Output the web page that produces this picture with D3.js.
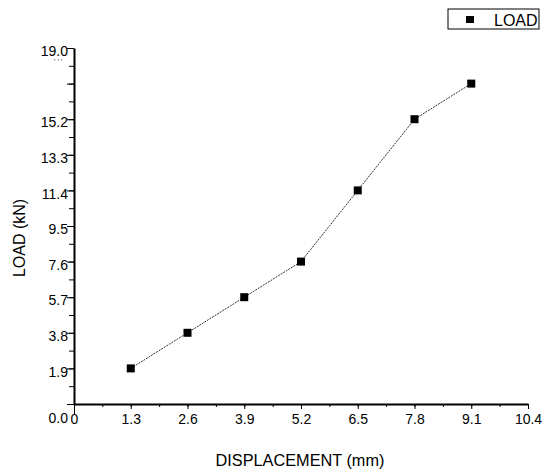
<!DOCTYPE html>
<html>
<head>
<meta charset="utf-8">
<script src="https://cdn.jsdelivr.net/npm/d3@7"></script>
<style>
body { margin: 0; background: #fff; }
text { font-family: "Liberation Sans", Arial, sans-serif; fill: #000; }
</style>
</head>
<body>
<script>
// data
var displacement = [1.3, 2.6, 3.9, 5.2, 6.5, 7.8, 9.1];
var load = [1.9, 3.8, 5.7, 7.6, 11.4, 15.2, 17.1];
var xTicks = [0, 1.3, 2.6, 3.9, 5.2, 6.5, 7.8, 9.1, 10.4];
var yTicks = [0, 1.9, 3.8, 5.7, 7.6, 9.5, 11.4, 13.3, 15.2, 17.1, 19.0];
var seriesName = "LOAD";

var W = 545, H = 472;
var margin = {top: 48, right: 17, bottom: 68, left: 74};

var svg = d3.select("body").append("svg")
    .attr("width", W)
    .attr("height", H);

var x = d3.scaleLinear().domain([0, 10.4]).range([margin.left, W - margin.right]);
var y = d3.scaleLinear().domain([0, 19.0]).range([H - margin.bottom, margin.top]);

// minor ticks half way between the majors
var xMinor = d3.range(0, 10.4, 0.65);
var yMinor = d3.range(0, 19.0, 0.95);

//minor tick marks
svg.append("g")
    .attr("transform", "translate(0," + y(0) + ")")
    .call(d3.axisBottom(x).tickValues(xMinor).tickSize(3).tickFormat(""))
    .call(function(g){ g.select(".domain").remove(); });
svg.append("g")
    .attr("transform", "translate(" + x(0) + ",0)")
    .call(d3.axisLeft(y).tickValues(yMinor).tickSize(5).tickFormat(""))
    .call(function(g){ g.select(".domain").remove(); });

// x axis
var gx = svg.append("g")
    .attr("transform", "translate(0," + y(0) + ")")
    .call(d3.axisBottom(x).tickValues(xTicks).tickSize(5).tickSizeOuter(0)
        .tickFormat(function(d){ return d === 0 ? "0" : d3.format(".1f")(d); }));
gx.attr("font-family", null).attr("font-size", 14);
gx.selectAll("text").attr("dy", "0.85em");
gx.select(".tick line").attr("y2", 10);

// y axis
var gy = svg.append("g")
    .attr("transform", "translate(" + x(0) + ",0)")
    .call(d3.axisLeft(y).tickValues(yTicks).tickSize(7).tickSizeOuter(0)
        .tickFormat(function(d){ return d3.format(".1f")(d); }));
gy.attr("font-family", null).attr("font-size", 14);
gy.selectAll("text").attr("x", -6).attr("dy", "0.55em");
// the 0.0 label sits down on the x label row, 17.1 came out as a smudge
gy.selectAll(".tick").filter(function(d){ return d === 0; }).select("text").attr("dy", "1.3em");
gy.selectAll(".tick").filter(function(d){ return d === 17.1; }).select("text")
    .text("' ' '").attr("font-size", 7).attr("x", -12).attr("y", -20).attr("dy", 0)
    .attr("fill", "#555");

svg.selectAll(".domain, .tick line").attr("stroke", "#000");
gx.select(".domain").attr("stroke-width", 2);
gy.select(".domain").attr("stroke-width", 2);

// line + markers
var pts = displacement.map(function(d, i){ return [d, load[i]]; });
var line = d3.line().x(function(d){ return x(d[0]); }).y(function(d){ return y(d[1]); });

svg.append("path")
    .datum(pts)
    .attr("d", line)
    .attr("fill", "none")
    .attr("stroke", "#333")
    .attr("stroke-width", 1)
    .attr("stroke-dasharray", "2,1");

svg.append("g").selectAll("rect")
    .data(pts)
    .enter()
    .append("rect")
    .attr("x", function(d){ return x(d[0]) - 4; })
    .attr("y", function(d){ return y(d[1]) - 4; })
    .attr("width", 8)
    .attr("height", 8)
    .attr("fill", "#000");

// axis titles
svg.append("text")
    .attr("x", 300)
    .attr("y", 466)
    .attr("text-anchor", "middle")
    .style("font-size", "16.3px")
    .text("DISPLACEMENT (mm)");

svg.append("text")
    .attr("transform", "translate(25,238) rotate(-90)")
    .attr("text-anchor", "middle")
    .style("font-size", "16px")
    .text("LOAD (kN)");

// legend
var lg = svg.append("g").attr("transform", "translate(448,9)");
lg.append("rect")
    .attr("width", 91).attr("height", 20)
    .attr("fill", "#fff").attr("stroke", "#000").attr("stroke-width", 1);
lg.append("rect")
    .attr("x", 18).attr("y", 7).attr("width", 8).attr("height", 7)
    .attr("fill", "#000");
lg.append("text")
    .attr("x", 46).attr("y", 17)
    .style("font-size", "16px")
    .text(seriesName);
</script>
</body>
</html>
